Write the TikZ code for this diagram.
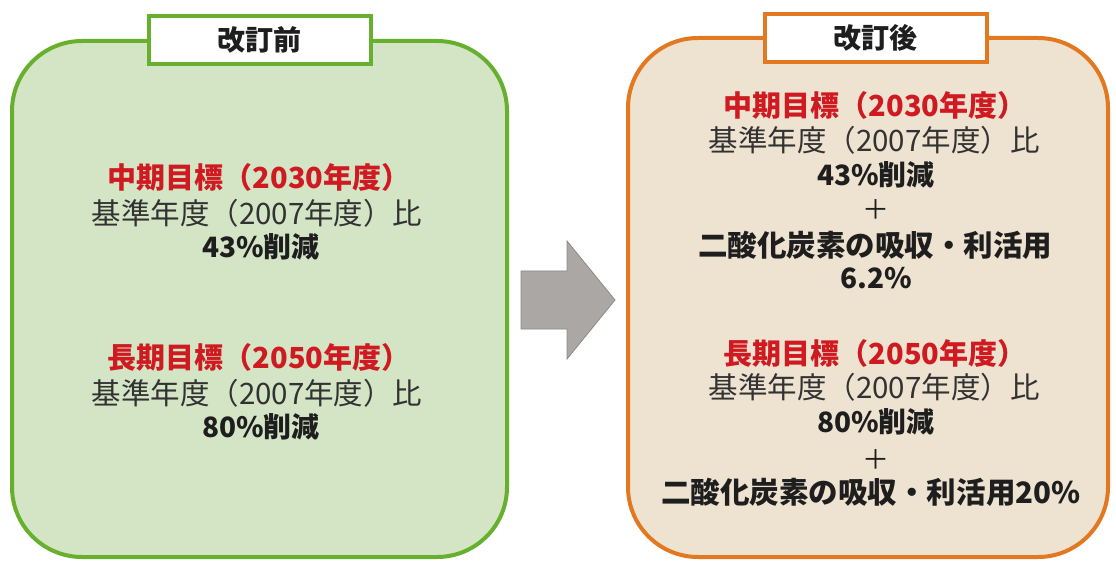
\documentclass[tikz,border=0pt]{standalone}
\usepackage{fontspec}
\setmainfont{Noto Sans CJK JP}
\begin{document}
\begin{tikzpicture}[x=1pt,y=-1pt,
  boxg/.style={draw=gborder,fill=gfill,line width=4pt,rounded corners=70pt},
  boxo/.style={draw=oborder,fill=ofill,line width=4pt,rounded corners=70pt},
  tab/.style={draw=#1,fill=white,line width=4pt,minimum width=222pt,minimum height=48pt,inner sep=0pt,font=\fontsize{28}{30}\selectfont\bfseries,text=txtdark},
  head/.style={font=\fontsize{29}{32}\selectfont\bfseries,text=redtxt,inner sep=0pt},
  base/.style={font=\fontsize{29.5}{32}\selectfont,text=txtgray,inner sep=0pt},
  val/.style={font=\fontsize{28}{32}\selectfont\bfseries,text=txtdark,inner sep=0pt},
  co/.style={font=\fontsize{29.5}{32}\selectfont\bfseries,text=txtdark,inner sep=0pt},
  plus/.style={font=\fontsize{27}{30}\selectfont,text=txtdark,inner sep=0pt},
  arrowshape/.style={fill=arrgray,draw=arrline,line width=0.8pt}
]
\definecolor{gborder}{RGB}{102,176,46}
\definecolor{gfill}{RGB}{212,229,198}
\definecolor{oborder}{RGB}{226,120,32}
\definecolor{ofill}{RGB}{238,226,209}
\definecolor{redtxt}{RGB}{206,26,32}
\definecolor{txtdark}{RGB}{30,30,30}
\definecolor{txtgray}{RGB}{50,50,50}
\definecolor{arrgray}{RGB}{170,167,164}
\definecolor{arrline}{RGB}{140,137,134}
\useasboundingbox (0,0) rectangle (1116,561);
\fill[white] (0,0) rectangle (1116,561);
% left box
\draw[boxg] (12,41) rectangle (507,557);
\node[tab=gborder] (tabL) at (259.5,40) {改訂前};
\node[head] (lh1) at (259,177) {中期目標（2030年度）};
\node[base] (lb1) at (257,213) {基準年度（2007年度）比};
\node[val] (lv1) at (261,247) {43\%削減};
\node[head] (lh2) at (259,357) {長期目標（2050年度）};
\node[base] (lb2) at (257,393) {基準年度（2007年度）比};
\node[val] (lv2) at (261,427) {80\%削減};
% arrow
\draw[arrowshape] (521,271) -- (567,271) -- (567,241) -- (615,300) -- (567,359) -- (567,329) -- (521,329) -- cycle;
% right box
\draw[boxo] (628,38) rectangle (1108,557);
\node[tab=oborder] (tabR) at (875.5,38) {改訂後};
\node[head] (rh1) at (875,105) {中期目標（2030年度）};
\node[base] (rb1) at (874,140) {基準年度（2007年度）比};
\node[val] (rv1) at (876,175) {43\%削減};
\node[plus] (rp1) at (876,210) {＋};
\node[co] (rc1) at (875,245) {二酸化炭素の吸収・利活用};
\node[val] (rs1) at (876,278) {6.2\%};
\node[head] (rh2) at (875,353) {長期目標（2050年度）};
\node[base] (rb2) at (874,387) {基準年度（2007年度）比};
\node[val] (rv2) at (876,422) {80\%削減};
\node[plus] (rp2) at (876,460) {＋};
\node[co] (rc2) at (871,492) {二酸化炭素の吸収・利活用20\%};
\end{tikzpicture}
\end{document}
